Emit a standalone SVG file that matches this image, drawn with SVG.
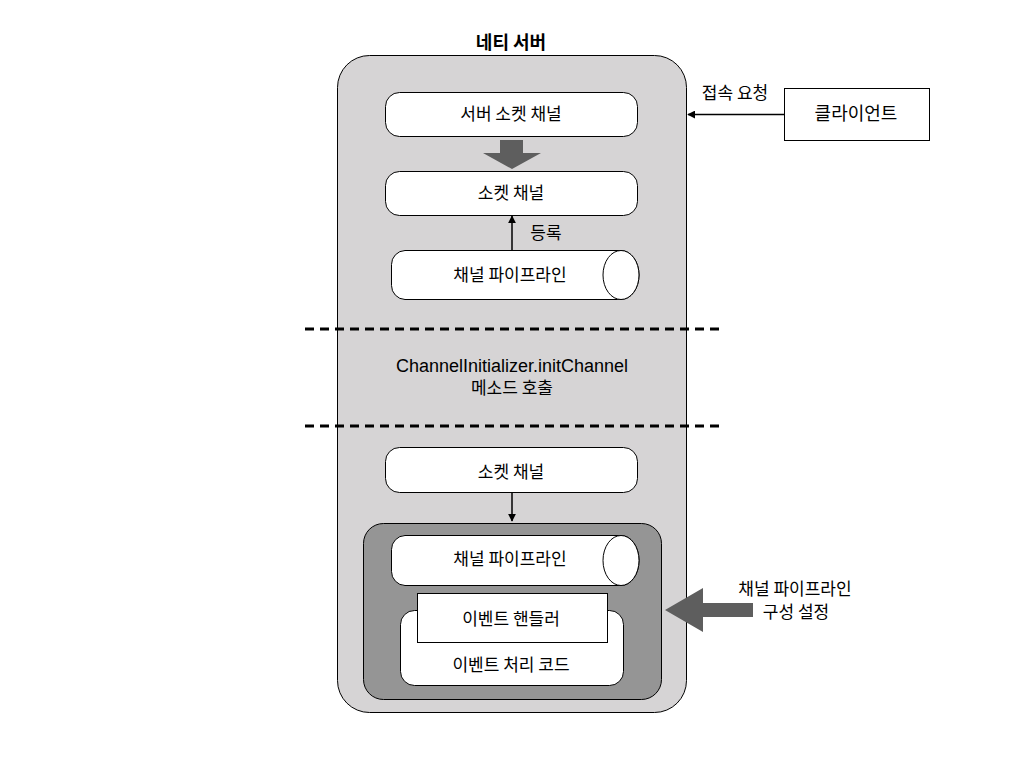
<svg xmlns="http://www.w3.org/2000/svg" width="1024" height="768" viewBox="0 0 1024 768">
<defs>
<marker id="ah" viewBox="0 0 10 10" refX="9" refY="5" markerWidth="8" markerHeight="8" markerUnits="userSpaceOnUse" orient="auto">
<path d="M0,0 L10,5 L0,10 Z" fill="#000"/>
</marker>
<style>
.t{font-family:"Noto Sans CJK KR","Liberation Sans",sans-serif;font-size:17px;fill:#000;text-anchor:middle}
.b{font-weight:bold;font-size:18px}
.box{fill:#fff;stroke:#000;stroke-width:1}
.con{stroke:#000;stroke-width:1.5;fill:none;marker-end:url(#ah)}
.big{fill:#5e5e5e}
.dash{stroke:#000;stroke-width:3;stroke-dasharray:9 6;fill:none}
</style>
</defs>
<rect width="1024" height="768" fill="#fff"/>

<g id="netty-server">
<rect x="337.5" y="55.5" width="349" height="657" rx="32" fill="#d6d4d5" stroke="#000" stroke-width="1"/>
<text class="t b" x="511" y="49">네티 서버</text>
</g>

<g id="server-socket-channel">
<rect class="box" x="385.5" y="92.5" width="252" height="44" rx="14"/>
<text class="t" x="511" y="120">서버 소켓 채널</text>
</g>

<g id="socket-channel-1">
<rect class="box" x="385.5" y="171.5" width="252" height="44" rx="14"/>
<text class="t" x="511" y="199">소켓 채널</text>
</g>

<g id="pipeline-1">
<path class="box" d="M405,250.5 H621 A18,24.5 0 0 1 621,299.5 H405 A14,14 0 0 1 391.5,285.5 V264.5 A14,14 0 0 1 405,250.5 Z"/>
<ellipse class="box" cx="621" cy="275" rx="18" ry="24.5"/>
<text class="t" x="510" y="281">채널 파이프라인</text>
</g>

<g id="init-label">
<text class="t" x="512" y="372" style="font-family:'Liberation Sans',sans-serif;font-size:18px">ChannelInitializer.initChannel</text>
<text class="t" x="512" y="394">메소드 호출</text>
</g>

<g id="socket-channel-2">
<rect class="box" x="385.5" y="447.5" width="252" height="45" rx="14"/>
<text class="t" x="511" y="478">소켓 채널</text>
</g>

<g id="pipeline-group">
<rect x="363.5" y="523.5" width="298" height="176" rx="20" fill="#959595" stroke="#000" stroke-width="1"/>
</g>

<g id="pipeline-2">
<path class="box" d="M405,535.5 H621 A18,25 0 0 1 621,585.5 H405 A14,14 0 0 1 391.5,571.5 V549.5 A14,14 0 0 1 405,535.5 Z"/>
<ellipse class="box" cx="621" cy="560.5" rx="18" ry="25"/>
<text class="t" x="510" y="565">채널 파이프라인</text>
</g>

<g id="event-code">
<rect class="box" x="400.5" y="610.5" width="223" height="75" rx="14"/>
<text class="t" x="511" y="671">이벤트 처리 코드</text>
</g>

<g id="event-handler">
<rect class="box" x="417.5" y="593.5" width="190" height="49"/>
<text class="t" x="511" y="625">이벤트 핸들러</text>
</g>

<g id="client">
<rect class="box" x="784.5" y="88.5" width="145" height="52"/>
<text class="t" x="856" y="120" style="font-size:18px">클라이언트</text>
</g>

<g id="pipeline-config-label">
<text class="t" x="795" y="595">채널 파이프라인</text>
<text class="t" x="796" y="618">구성 설정</text>
</g>

<g id="connectors">
<path class="dash" d="M305,329 H719"/>
<path class="dash" d="M305,426 H719"/>
<polygon class="big" points="500,140 523,140 523,153 541,153 512,169 483,153 500,153"/>
<line class="con" x1="512" y1="250" x2="512" y2="216"/>
<text class="t" x="546" y="239">등록</text>
<line class="con" x1="512" y1="493" x2="512" y2="521"/>
<line class="con" x1="784" y1="114.5" x2="688" y2="114.5"/>
<text class="t" x="735" y="99">접속 요청</text>
<polygon class="big" points="665,610 703,588 703,603 753,603 753,617 703,617 703,632"/>
</g>
</svg>
